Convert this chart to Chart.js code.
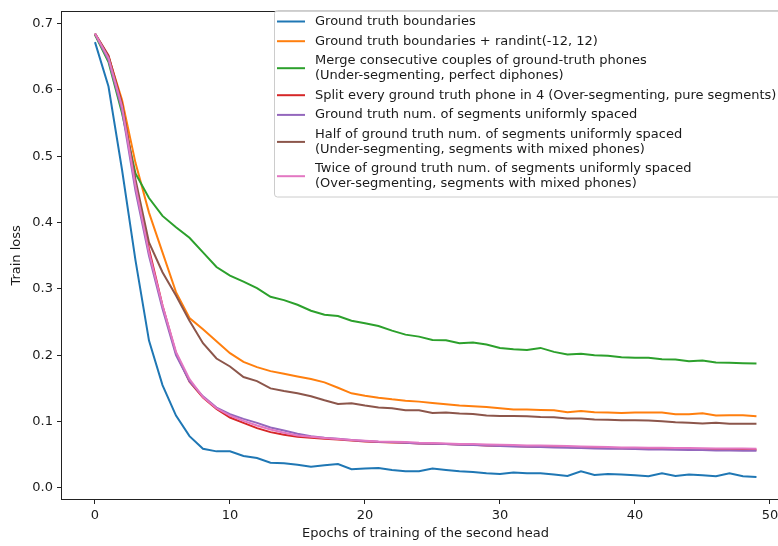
<!DOCTYPE html>
<html>
<head>
<meta charset="utf-8">
<script src="https://cdn.jsdelivr.net/npm/chart.js@4.4.0/dist/chart.umd.min.js"></script>
<style>
  html, body { margin: 0; padding: 0; background: #fff; overflow: hidden; }
  #wrap { width: 800px; height: 546px; }
</style>
</head>
<body>
<div id="wrap"><canvas id="lossChart" width="800" height="546"></canvas></div>
<script>
// epochs on the x axis
const epochs = [0, 1, 2, 3, 4, 5, 6, 7, 8, 9, 10, 11, 12, 13, 14, 15, 16, 17, 18, 19,
  20, 21, 22, 23, 24, 25, 26, 27, 28, 29, 30, 31, 32, 33, 34, 35, 36, 37, 38, 39,
  40, 41, 42, 43, 44, 45, 46, 47, 48, 49];

const xTicks = [0, 10, 20, 30, 40, 50];
const yTicks = [0.0, 0.1, 0.2, 0.3, 0.4, 0.5, 0.6, 0.7];

const seriesLabels = [
  'Ground truth boundaries',
  'Ground truth boundaries + randint(-12, 12)',
  'Merge consecutive couples of ground-truth phones\n(Under-segmenting, perfect diphones)',
  'Split every ground truth phone in 4 (Over-segmenting, pure segments)',
  'Ground truth num. of segments uniformly spaced',
  'Half of ground truth num. of segments uniformly spaced\n(Under-segmenting, segments with mixed phones)',
  'Twice of ground truth num. of segments uniformly spaced\n(Over-segmenting, segments with mixed phones)'
];

const seriesColors = ['#1f77b4', '#ff7f0e', '#2ca02c', '#d62728', '#9467bd', '#8c564b', '#e377c2'];

// train loss per epoch
const gtBoundaries = [0.672, 0.605, 0.48, 0.343, 0.222, 0.155, 0.109, 0.078, 0.059, 0.055,
  0.055, 0.048, 0.045, 0.038, 0.037, 0.035, 0.032, 0.034, 0.036, 0.028,
  0.029, 0.030, 0.027, 0.025, 0.025, 0.029, 0.027, 0.025, 0.024, 0.022,
  0.021, 0.023, 0.022, 0.022, 0.020, 0.018, 0.025, 0.0195, 0.021, 0.020,
  0.019, 0.0175, 0.022, 0.018, 0.020, 0.019, 0.0175, 0.022, 0.0175, 0.0163];

const gtRandint = [0.683, 0.65, 0.585, 0.49, 0.415, 0.355, 0.295, 0.256, 0.239, 0.221,
  0.203, 0.19, 0.182, 0.176, 0.172, 0.168, 0.164, 0.159, 0.151, 0.1425,
  0.139, 0.136, 0.1335, 0.1315, 0.130, 0.128, 0.126, 0.124, 0.123, 0.122,
  0.120, 0.118, 0.118, 0.1175, 0.117, 0.114, 0.116, 0.114, 0.1135, 0.113,
  0.1135, 0.1135, 0.1135, 0.111, 0.111, 0.1125, 0.109, 0.1095, 0.1095, 0.108];

const mergeCouples = [0.683, 0.642, 0.565, 0.474, 0.437, 0.41, 0.393, 0.377, 0.355, 0.333,
  0.32, 0.311, 0.301, 0.288, 0.283, 0.276, 0.267, 0.261, 0.259, 0.252,
  0.248, 0.244, 0.237, 0.231, 0.228, 0.223, 0.2225, 0.218, 0.219, 0.216,
  0.211, 0.209, 0.208, 0.211, 0.205, 0.201, 0.202, 0.200, 0.199, 0.197,
  0.196, 0.196, 0.194, 0.1935, 0.191, 0.192, 0.189, 0.1885, 0.188, 0.1875];

const splitIn4 = [0.685, 0.652, 0.58, 0.46, 0.36, 0.275, 0.203, 0.16, 0.136, 0.119,
  0.106, 0.098, 0.09, 0.084, 0.080, 0.077, 0.0755, 0.074, 0.073, 0.0715,
  0.070, 0.069, 0.0685, 0.068, 0.067, 0.0665, 0.066, 0.0655, 0.065, 0.064,
  0.0635, 0.063, 0.0625, 0.062, 0.062, 0.0615, 0.061, 0.0605, 0.060, 0.0598,
  0.0595, 0.059, 0.059, 0.0588, 0.0585, 0.058, 0.058, 0.058, 0.0578, 0.0575];

const uniformGt = [0.684, 0.645, 0.57, 0.448, 0.35, 0.27, 0.2, 0.161, 0.138, 0.121,
  0.111, 0.104, 0.098, 0.091, 0.0865, 0.0815, 0.078, 0.0755, 0.074, 0.072,
  0.0705, 0.0695, 0.069, 0.068, 0.067, 0.0665, 0.066, 0.065, 0.0645, 0.064,
  0.063, 0.0625, 0.062, 0.0615, 0.061, 0.0605, 0.060, 0.0595, 0.059, 0.0588,
  0.0585, 0.058, 0.058, 0.0575, 0.057, 0.057, 0.0565, 0.0565, 0.056, 0.056];

const uniformHalf = [0.685, 0.65, 0.578, 0.465, 0.37, 0.325, 0.29, 0.252, 0.218, 0.195,
  0.183, 0.167, 0.161, 0.15, 0.146, 0.1425, 0.138, 0.132, 0.1265, 0.1275,
  0.124, 0.121, 0.120, 0.117, 0.117, 0.113, 0.1135, 0.112, 0.1115, 0.109,
  0.1085, 0.1085, 0.108, 0.107, 0.1065, 0.1045, 0.1045, 0.103, 0.1025, 0.102,
  0.102, 0.1015, 0.1005, 0.099, 0.098, 0.097, 0.098, 0.0965, 0.0965, 0.0965];

const uniformTwice = [0.685, 0.648, 0.575, 0.455, 0.355, 0.275, 0.205, 0.164, 0.137, 0.12,
  0.109, 0.101, 0.094, 0.088, 0.083, 0.079, 0.077, 0.075, 0.0735, 0.072,
  0.071, 0.070, 0.0695, 0.069, 0.068, 0.0675, 0.067, 0.066, 0.066, 0.0655,
  0.065, 0.0645, 0.064, 0.064, 0.0635, 0.063, 0.0625, 0.062, 0.0615, 0.061,
  0.061, 0.0605, 0.0605, 0.060, 0.060, 0.0598, 0.0595, 0.0595, 0.0593, 0.059];

const allSeries = [gtBoundaries, gtRandint, mergeCouples, splitIn4, uniformGt, uniformHalf, uniformTwice];

const FONT = '"DejaVu Sans", sans-serif';
const TEXT = '#1a1a1a';

// box around the plot, like matplotlib spines
const framePlugin = {
  id: 'frame',
  afterDatasetsDraw(chart) {
    const { ctx, chartArea: a } = chart;
    ctx.save();
    ctx.strokeStyle = '#222';
    ctx.lineWidth = 1;
    ctx.strokeRect(Math.round(a.left) - 0.5, Math.round(a.top) - 0.5,
      Math.round(a.right - a.left) + 1, Math.round(a.bottom - a.top) + 1);
    ctx.restore();
  }
};

// legend with multi-line labels
const legendPlugin = {
  id: 'mplLegend',
  afterDraw(chart) {
    const ctx = chart.ctx;
    const L = 14.6, G = 5.1;
    ctx.save();
    ctx.beginPath();
    ctx.roundRect(274.5, 10.5, 510, 186.5, 3);
    ctx.fillStyle = 'rgba(255,255,255,0.8)';
    ctx.fill();
    ctx.strokeStyle = '#cccccc';
    ctx.lineWidth = 1;
    ctx.stroke();
    ctx.font = '13px ' + FONT;
    ctx.textBaseline = 'middle';
    let y = 21.5;
    chart.data.datasets.forEach(ds => {
      const lines = ds.label.split('\n');
      const mid = y + (lines.length - 1) * L / 2;
      ctx.strokeStyle = ds.borderColor;
      ctx.lineWidth = 2;
      ctx.beginPath();
      ctx.moveTo(277, mid);
      ctx.lineTo(305, mid);
      ctx.stroke();
      ctx.fillStyle = TEXT;
      lines.forEach((t, j) => ctx.fillText(t, 315, y + j * L));
      y += lines.length * L + G;
    });
    ctx.restore();
  }
};

const datasets = allSeries.map((vals, i) => ({
  label: seriesLabels[i],
  data: epochs.map((e, k) => ({ x: e, y: vals[k] })),
  borderColor: seriesColors[i],
  backgroundColor: seriesColors[i],
  borderWidth: 2,
  pointRadius: 0,
  tension: 0,
  fill: false,
  order: allSeries.length - i   // last series on top, like matplotlib
}));

new Chart(document.getElementById('lossChart'), {
  type: 'line',
  data: { datasets: datasets },
  options: {
    responsive: false,
    animation: false,
    devicePixelRatio: 1,
    layout: { padding: { top: 4, right: 11, bottom: 0, left: 0 } },
    plugins: {
      legend: { display: false },
      tooltip: { enabled: false }
    },
    scales: {
      x: {
        type: 'linear',
        min: -2.444,
        max: 51.41,
        afterBuildTicks: s => { s.ticks = xTicks.map(v => ({ value: v })); },
        afterFit: s => { s.height = 47; },
        border: { display: false },
        grid: { drawOnChartArea: false, drawTicks: true, tickLength: 5, color: '#222' },
        ticks: { color: TEXT, font: { family: FONT, size: 13 }, padding: 4, maxRotation: 0 },
        title: {
          display: true,
          text: 'Epochs of training of the second head',
          color: TEXT,
          font: { family: FONT, size: 13 },
          padding: { top: 0, bottom: 5 }
        }
      },
      y: {
        min: -0.0168,
        max: 0.7177,
        afterBuildTicks: s => { s.ticks = yTicks.map(v => ({ value: v })); },
        afterFit: s => { s.width = 62; },
        border: { display: false },
        grid: { drawOnChartArea: false, drawTicks: true, tickLength: 5, color: '#222' },
        ticks: {
          color: TEXT,
          font: { family: FONT, size: 13 },
          padding: 4,
          callback: v => v.toFixed(1)
        },
        title: {
          display: true,
          text: 'Train loss',
          color: TEXT,
          font: { family: FONT, size: 13 },
          padding: { top: 9, bottom: 0 }
        }
      }
    }
  },
  plugins: [framePlugin, legendPlugin]
});
</script>
</body>
</html>
